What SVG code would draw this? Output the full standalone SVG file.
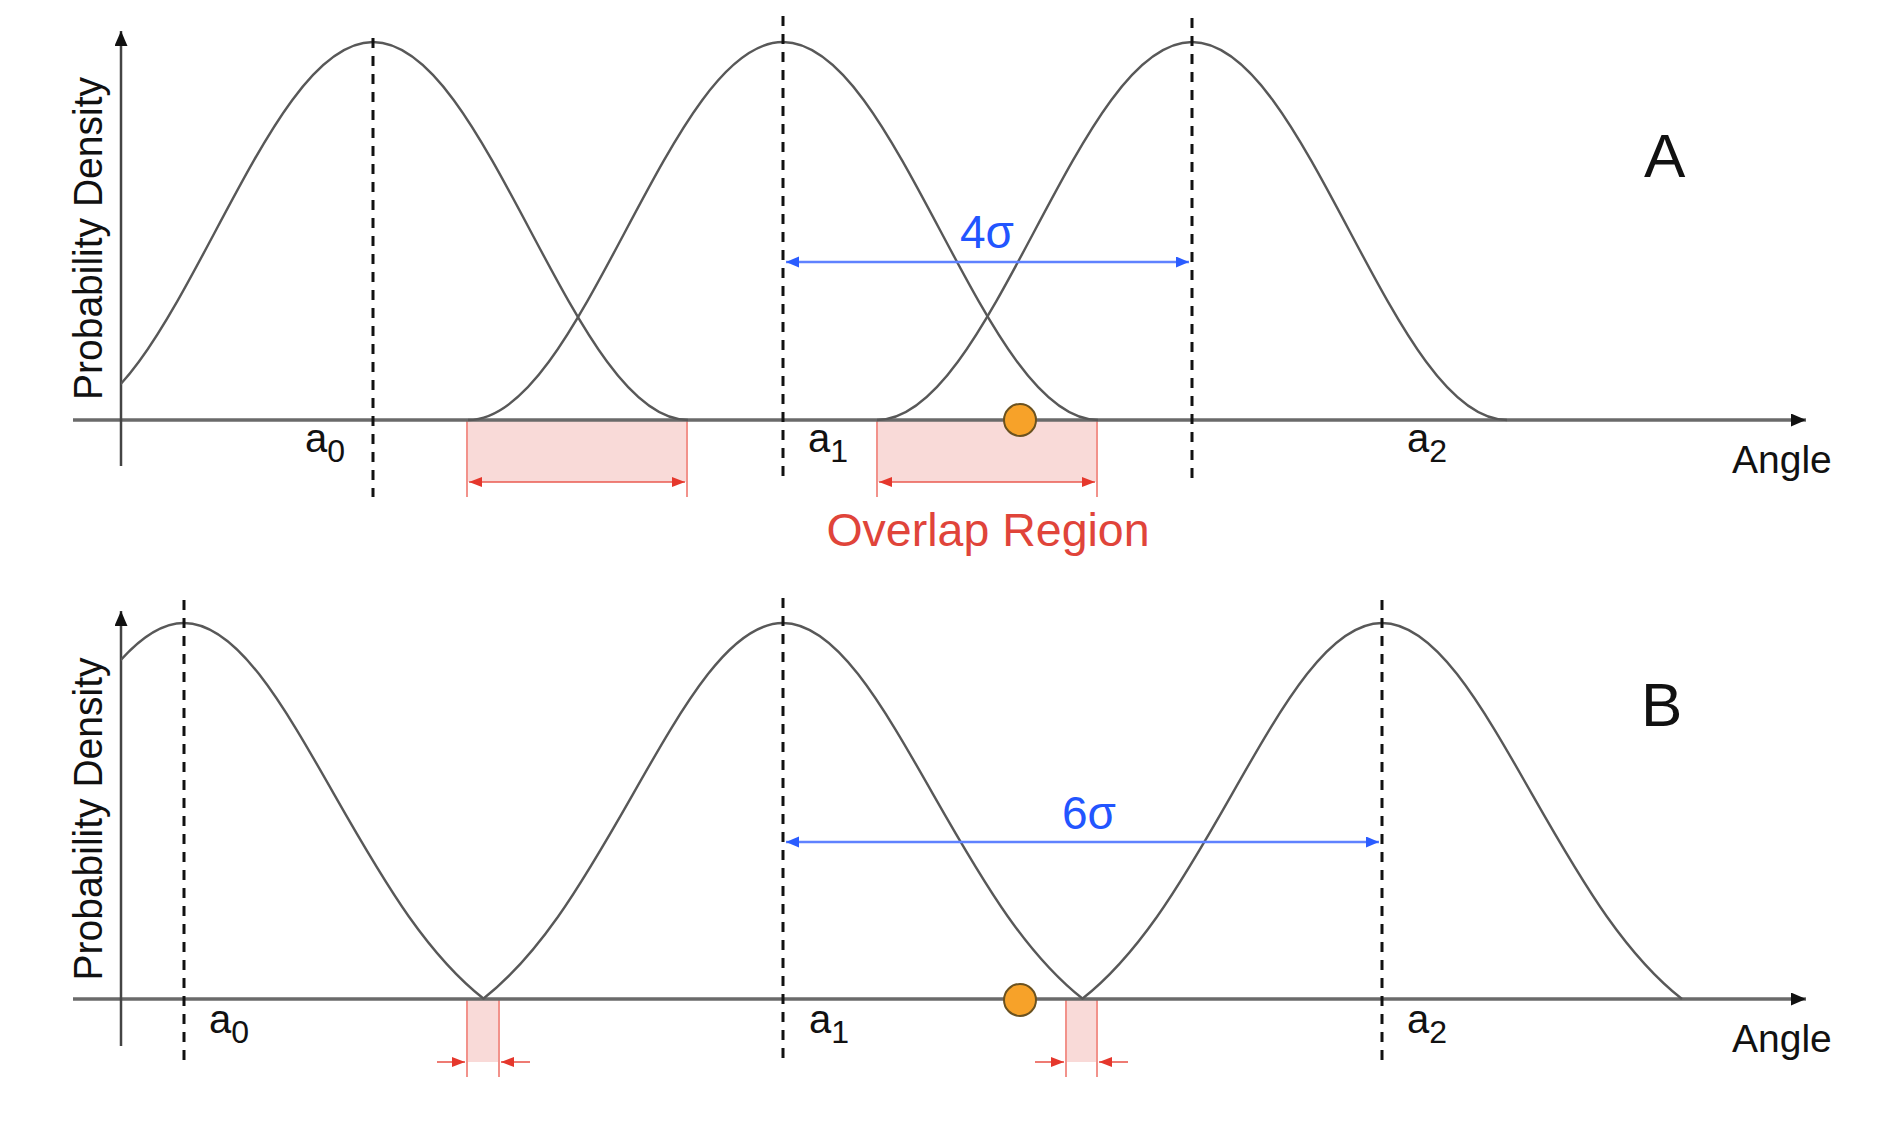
<svg xmlns="http://www.w3.org/2000/svg" width="1890" height="1131" viewBox="0 0 1890 1131">
<style>
.curve{fill:none;stroke:#585858;stroke-width:2.4}
.axis{fill:none;stroke:#6a6a6a;stroke-width:3.5}
.yaxis{fill:none;stroke:#444;stroke-width:2.5}
.dash{fill:none;stroke:#111;stroke-width:3;stroke-dasharray:10 8}
.blue{fill:none;stroke:#5f82ff;stroke-width:2.5}
.redline{fill:none;stroke:#f2928b;stroke-width:2}
.redarrow{fill:none;stroke:#ea5a50;stroke-width:1.6}
.fill{fill:#f9dad8;stroke:none}
.dot{fill:#f7a229;stroke:#6b5220;stroke-width:2}
.t{font-family:"Liberation Sans",Arial,sans-serif;fill:#111}
.lbl{font-size:40px}
.sub{font-size:32px}
.ax{font-size:39px}
.big{font-size:62px}
.sig{font-size:46px;fill:#2255ff}
.red{font-size:46.5px;fill:#e0443a}
.pd{font-size:41px}
</style>
<defs>
<marker id="mBlack" markerUnits="userSpaceOnUse" markerWidth="16" markerHeight="14" refX="15" refY="6.5" orient="auto"><path d="M0,0 L15,6.5 L0,13 z" fill="#111"/></marker>
<marker id="mBlue" markerUnits="userSpaceOnUse" markerWidth="14" markerHeight="12" refX="13" refY="5.5" orient="auto-start-reverse"><path d="M0,0 L13,5.5 L0,11 z" fill="#2a5cff"/></marker>
<marker id="mRed" markerUnits="userSpaceOnUse" markerWidth="14" markerHeight="12" refX="13" refY="5" orient="auto-start-reverse"><path d="M0,0 L13,5 L0,10 z" fill="#e5372c"/></marker>
<clipPath id="clipA"><rect x="121" y="0" width="1750" height="560"/></clipPath>
<clipPath id="clipB"><rect x="121" y="560" width="1750" height="571"/></clipPath>
</defs>
<rect x="0" y="0" width="1890" height="1131" fill="#fff"/>

<!-- Panel A -->
<g id="overlapA">
<rect class="fill" x="467" y="421" width="220" height="61"/>
<rect class="fill" x="877" y="421" width="220" height="61"/>
<line class="redline" x1="467" y1="421" x2="467" y2="497"/>
<line class="redline" x1="687" y1="421" x2="687" y2="497"/>
<line class="redline" x1="877" y1="421" x2="877" y2="497"/>
<line class="redline" x1="1097" y1="421" x2="1097" y2="497"/>
</g>
<g id="axesA">
<line class="axis" x1="73" y1="420" x2="1806" y2="420" marker-end="url(#mBlack)"/>
<line class="yaxis" x1="121" y1="466" x2="121" y2="31" marker-end="url(#mBlack)"/>
</g>
<g id="curvesA">
<path class="curve" clip-path="url(#clipA)" d="M58,420 C115,420 164.1,327.8 215.5,231 C266.9,134.2 316,42 373,42 C430,42 479.1,134.2 530.5,231 C581.9,327.8 631,420 688,420"/>
<path class="curve" d="M468,420 C525,420 574.1,327.8 625.5,231 C676.9,134.2 726,42 783,42 C840,42 889.1,134.2 940.5,231 C991.9,327.8 1041,420 1098,420"/>
<path class="curve" d="M877,420 C934,420 983.1,327.8 1034.5,231 C1085.9,134.2 1135,42 1192,42 C1249,42 1298.1,134.2 1349.5,231 C1400.9,327.8 1450,420 1507,420"/>
</g>
<g id="meansA">
<line class="dash" x1="373" y1="38" x2="373" y2="497"/>
<line class="dash" x1="783" y1="16" x2="783" y2="481"/>
<line class="dash" x1="1192" y1="18" x2="1192" y2="481"/>
</g>
<g id="connectorsA">
<line class="blue" x1="786" y1="262" x2="1189" y2="262" marker-start="url(#mBlue)" marker-end="url(#mBlue)"/>
<line class="redarrow" x1="469" y1="482" x2="685" y2="482" marker-start="url(#mRed)" marker-end="url(#mRed)"/>
<line class="redarrow" x1="879" y1="482" x2="1095" y2="482" marker-start="url(#mRed)" marker-end="url(#mRed)"/>
</g>
<g id="pointA"><circle class="dot" cx="1020" cy="420" r="16"/></g>
<g id="labelsA">
<text class="t pd" transform="translate(102,238.5) rotate(-90)" text-anchor="middle" textLength="323" lengthAdjust="spacingAndGlyphs">Probability Density</text>
<text class="t lbl" x="305" y="452">a<tspan class="sub" dy="10">0</tspan></text>
<text class="t lbl" x="808" y="452">a<tspan class="sub" dy="10">1</tspan></text>
<text class="t lbl" x="1407" y="452">a<tspan class="sub" dy="10">2</tspan></text>
<text class="t ax" x="1732" y="473">Angle</text>
<text class="t big" x="1644" y="177">A</text>
<text class="t sig" x="960" y="248">4σ</text>
<text class="t red" x="988" y="546" text-anchor="middle">Overlap Region</text>
</g>

<!-- Panel B -->
<g id="overlapB">
<rect class="fill" x="467" y="1000" width="32" height="62"/>
<rect class="fill" x="1066" y="1000" width="31" height="62"/>
<line class="redline" x1="467" y1="1000" x2="467" y2="1077"/>
<line class="redline" x1="499" y1="1000" x2="499" y2="1077"/>
<line class="redline" x1="1066" y1="1000" x2="1066" y2="1077"/>
<line class="redline" x1="1097" y1="1000" x2="1097" y2="1077"/>
</g>
<g id="axesB">
<line class="axis" x1="73" y1="999" x2="1806" y2="999" marker-end="url(#mBlack)"/>
<line class="yaxis" x1="121" y1="1046" x2="121" y2="611" marker-end="url(#mBlack)"/>
</g>
<g id="curvesB">
<path class="curve" clip-path="url(#clipB)" d="M-116,999 C-91,979.4 -66,952 -41,916.7 C-16,881.4 9,838.1 34,794.1 C59,750.1 84,706.1 109,674.1 C134,642.1 159,623 184,623 C209,623 234,642.1 259,674.1 C284,706.1 309,750.1 334,794.1 C359,838.1 384,881.4 409,916.7 C434,952 459,979.4 484,999"/>
<path class="curve" d="M483,999 C508,979.4 533,952 558,916.7 C583,881.4 608,838.1 633,794.1 C658,750.1 683,706.1 708,674.1 C733,642.1 758,623 783,623 C808,623 833,642.1 858,674.1 C883,706.1 908,750.1 933,794.1 C958,838.1 983,881.4 1008,916.7 C1033,952 1058,979.4 1083,999"/>
<path class="curve" d="M1082,999 C1107,979.4 1132,952 1157,916.7 C1182,881.4 1207,838.1 1232,794.1 C1257,750.1 1282,706.1 1307,674.1 C1332,642.1 1357,623 1382,623 C1407,623 1432,642.1 1457,674.1 C1482,706.1 1507,750.1 1532,794.1 C1557,838.1 1582,881.4 1607,916.7 C1632,952 1657,979.4 1682,999"/>
</g>
<g id="meansB">
<line class="dash" x1="184" y1="600" x2="184" y2="1063"/>
<line class="dash" x1="783" y1="598" x2="783" y2="1063"/>
<line class="dash" x1="1382" y1="600" x2="1382" y2="1063"/>
</g>
<g id="connectorsB">
<line class="blue" x1="786" y1="842" x2="1379" y2="842" marker-start="url(#mBlue)" marker-end="url(#mBlue)"/>
<line class="redarrow" x1="437" y1="1062" x2="465" y2="1062" marker-end="url(#mRed)"/>
<line class="redarrow" x1="530" y1="1062" x2="501" y2="1062" marker-end="url(#mRed)"/>
<line class="redarrow" x1="1035" y1="1062" x2="1064" y2="1062" marker-end="url(#mRed)"/>
<line class="redarrow" x1="1128" y1="1062" x2="1099" y2="1062" marker-end="url(#mRed)"/>
</g>
<g id="pointB"><circle class="dot" cx="1020" cy="1000" r="16"/></g>
<g id="labelsB">
<text class="t pd" transform="translate(102,819) rotate(-90)" text-anchor="middle" textLength="323" lengthAdjust="spacingAndGlyphs">Probability Density</text>
<text class="t lbl" x="209" y="1033">a<tspan class="sub" dy="10">0</tspan></text>
<text class="t lbl" x="809" y="1033">a<tspan class="sub" dy="10">1</tspan></text>
<text class="t lbl" x="1407" y="1033">a<tspan class="sub" dy="10">2</tspan></text>
<text class="t ax" x="1732" y="1052">Angle</text>
<text class="t big" x="1641" y="726">B</text>
<text class="t sig" x="1062" y="829">6σ</text>
</g>
</svg>
